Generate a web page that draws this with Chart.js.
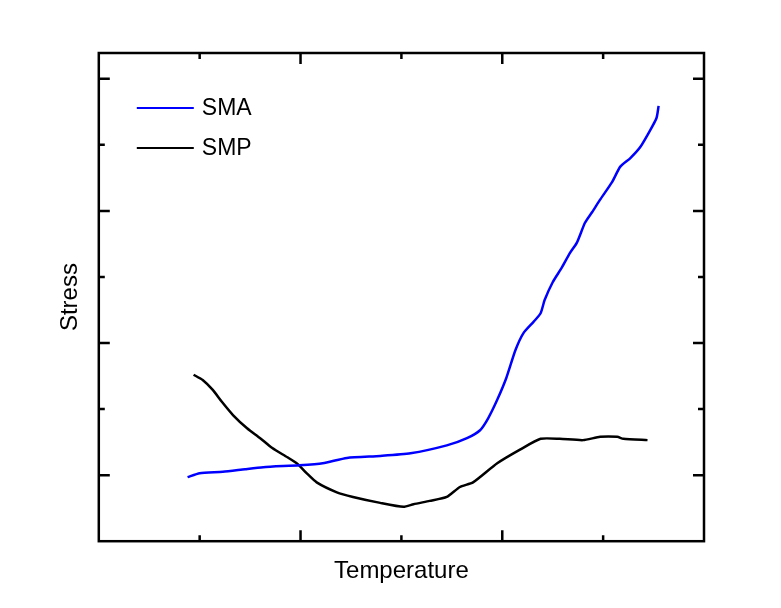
<!DOCTYPE html>
<html>
<head>
<meta charset="utf-8">
<script src="https://cdn.jsdelivr.net/npm/chart.js@4"></script>
<style>
  html, body { margin: 0; padding: 0; background: #fff; }
  #wrap { width: 781px; height: 608px; }
</style>
</head>
<body>
<div id="wrap"><canvas id="chart"></canvas></div>
<script>
// temperature / stress readings, arbitrary units
const smaX = [0.88, 1.00, 1.23, 1.45, 1.63, 1.99, 2.22, 2.46, 2.79, 3.09, 3.45, 3.65, 3.78, 3.86, 3.95, 4.04, 4.13, 4.21, 4.31, 4.38, 4.42, 4.50, 4.59, 4.67, 4.74, 4.82, 4.89, 4.97, 5.09, 5.17, 5.27, 5.37, 5.47, 5.53, 5.55];
const smaY = [-0.03, 0.03, 0.05, 0.09, 0.12, 0.15, 0.18, 0.26, 0.29, 0.33, 0.45, 0.56, 0.68, 0.86, 1.14, 1.47, 1.89, 2.15, 2.32, 2.45, 2.65, 2.92, 3.14, 3.36, 3.52, 3.82, 3.98, 4.17, 4.44, 4.67, 4.80, 4.97, 5.23, 5.41, 5.59];
const smpX = [0.94, 1.03, 1.13, 1.22, 1.33, 1.47, 1.60, 1.72, 1.87, 1.97, 2.06, 2.16, 2.36, 2.52, 2.79, 3.02, 3.12, 3.28, 3.45, 3.58, 3.71, 3.95, 4.18, 4.38, 4.57, 4.80, 4.97, 5.14, 5.20, 5.44];
const smpY = [1.52, 1.44, 1.29, 1.11, 0.91, 0.71, 0.56, 0.41, 0.27, 0.17, 0.03, -0.11, -0.26, -0.33, -0.42, -0.48, -0.44, -0.39, -0.33, -0.18, -0.11, 0.18, 0.39, 0.55, 0.55, 0.53, 0.58, 0.58, 0.55, 0.53];
const seriesNames = ['SMA', 'SMP'];
const seriesColors = ['#0000ff', '#000000'];

const FONT = "'Liberation Sans', Arial, sans-serif";

const toPoints = (xs, ys) => xs.map((x, i) => ({ x: x, y: ys[i] }));

// box around the plot, inward ticks on all four sides, legend inside the box
const framePlugin = {
  id: 'frame',
  afterDatasetsDraw(chart) {
    const { ctx, chartArea: a, scales } = chart;
    ctx.save();
    ctx.strokeStyle = '#000';
    ctx.lineWidth = 2.5;
    ctx.strokeRect(a.left, a.top, a.right - a.left, a.bottom - a.top);

    const len = v => (Math.round(v) % 2 === 0 ? 11 : 6);
    scales.x.ticks.forEach(t => {
      if (t.value <= scales.x.min || t.value >= scales.x.max) return;
      const px = scales.x.getPixelForValue(t.value);
      const l = len(t.value);
      ctx.beginPath();
      ctx.moveTo(px, a.bottom); ctx.lineTo(px, a.bottom - l);
      ctx.moveTo(px, a.top); ctx.lineTo(px, a.top + l);
      ctx.stroke();
    });
    scales.y.ticks.forEach(t => {
      if (t.value <= scales.y.min || t.value >= scales.y.max) return;
      if (!Number.isInteger(t.value)) return;
      const py = scales.y.getPixelForValue(t.value);
      const l = len(t.value);
      ctx.beginPath();
      ctx.moveTo(a.left, py); ctx.lineTo(a.left + l, py);
      ctx.moveTo(a.right, py); ctx.lineTo(a.right - l, py);
      ctx.stroke();
    });

    // legend
    ctx.font = '23px ' + FONT;
    ctx.textBaseline = 'middle';
    chart.data.datasets.forEach((ds, i) => {
      const y = a.top + 55 + i * 40;
      ctx.strokeStyle = ds.borderColor;
      ctx.lineWidth = 2;
      ctx.beginPath();
      ctx.moveTo(a.left + 38, y); ctx.lineTo(a.left + 95, y);
      ctx.stroke();
      ctx.fillStyle = '#000';
      ctx.fillText(ds.label, a.left + 103, y + 1);
    });
    ctx.restore();
  }
};

new Chart(document.getElementById('chart'), {
  type: 'line',
  data: {
    datasets: [{
      label: seriesNames[0],
      data: toPoints(smaX, smaY),
      borderColor: seriesColors[0],
      borderWidth: 2.5,
      pointRadius: 0,
      tension: 0.2
    },
    {
      label: seriesNames[1],
      data: toPoints(smpX, smpY),
      borderColor: seriesColors[1],
      borderWidth: 2.5,
      pointRadius: 0,
      tension: 0.2
    }]
  },
  options: {
    responsive: true,
    maintainAspectRatio: false,
    animation: false,
    layout: {
      padding: { left: 56, right: 77, top: 53, bottom: 18 }
    },
    plugins: {
      legend: { display: false },
      tooltip: { enabled: false }
    },
    scales: {
      x: {
        type: 'linear',
        min: 0,
        max: 6,
        ticks: { display: false, stepSize: 1 },
        grid: { display: false, drawTicks: false },
        border: { display: false },
        title: {
          display: true,
          text: 'Temperature',
          color: '#000',
          font: { family: FONT, size: 24 },
          padding: { top: 16, bottom: 4 }
        }
      },
      y: {
        type: 'linear',
        min: -1,
        max: 6.39,
        ticks: { display: false, stepSize: 1 },
        grid: { display: false, drawTicks: false },
        border: { display: false },
        title: {
          display: true,
          text: 'Stress',
          color: '#000',
          font: { family: FONT, size: 24 },
          padding: { top: 0, bottom: 14 }
        }
      }
    }
  },
  plugins: [framePlugin]
});
</script>
</body>
</html>
